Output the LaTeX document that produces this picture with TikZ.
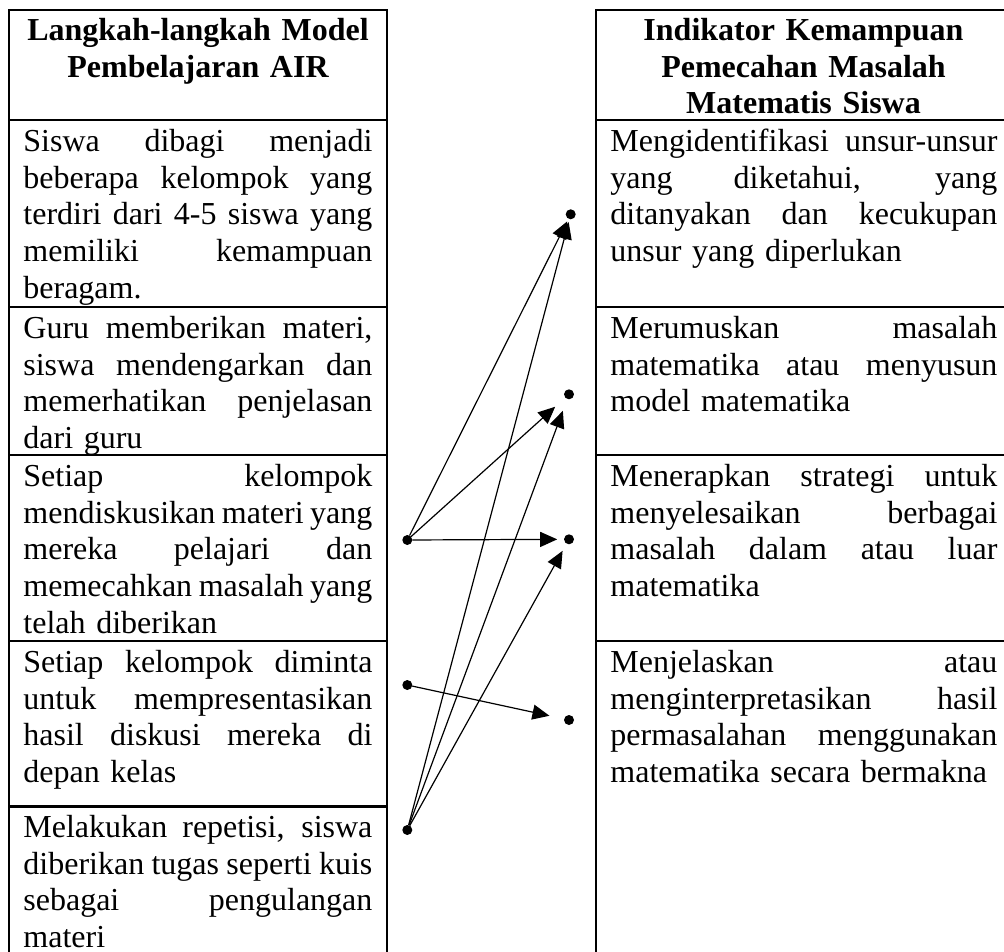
\documentclass[tikz,border=0pt]{standalone}
\usepackage{fontspec}
\setmainfont[Ligatures=NoCommon]{Liberation Serif}
\usetikzlibrary{arrows.meta}
\newlength\lcw \setlength\lcw{174.5pt}
\newlength\rcw \setlength\rcw{193.5pt}
\newcommand\flexsp{\spaceskip=\fontdimen2\font plus 1fil minus \fontdimen4\font\xspaceskip=\spaceskip}
\newcommand\jL[1]{\makebox[\lcw][s]{\flexsp\rule{0pt}{14pt}#1}}
\newcommand\jR[1]{\makebox[\rcw][s]{\flexsp\rule{0pt}{14pt}#1}}
\newcommand\lastl[1]{\rule{0pt}{14pt}#1}
\begin{document}
\begin{tikzpicture}[x=0.5pt,y=-0.5pt,
  border/.style={line width=1.3pt},
  txt/.style={inner sep=0pt, font=\fontsize{16pt}{18.35pt}\selectfont},
  lcell/.style={txt, anchor=north west, align=left, text width=\lcw},
  rcell/.style={txt, anchor=north west, align=left, text width=\rcw},
  lhead/.style={txt, anchor=north, align=center, text width=\lcw, font=\fontsize{16pt}{18.35pt}\selectfont\bfseries},
  rhead/.style={txt, anchor=north, align=center, text width=\rcw, font=\fontsize{16pt}{18.35pt}\selectfont\bfseries},
  bdot/.style={circle, fill=black, inner sep=0pt, outer sep=0pt, minimum size=5pt},
  arr/.style={-{Triangle[length=8.5pt,width=7.5pt]}, line width=0.6pt}]
\useasboundingbox (0,0) rectangle (1004,951);
\clip (0,0) rectangle (1004,951);
\fill[white] (0,0) rectangle (1004,951);
% table frames
\draw[border] (9,10) rectangle (387,980);
\draw[border] (596,10) rectangle (1011,980);
\foreach \yy in {120,307,455,641,806.7} \draw[border] (9,\yy) -- (387,\yy);
\foreach \yy in {120,307,455,641} \draw[border] (596,\yy) -- (1011,\yy);
% headers
\node[lhead] (lh) at (198,12) {\lastl{Langkah-langkah Model}\\\lastl{Pembelajaran AIR}};
\node[rhead] (rh) at (803.5,12) {\lastl{Indikator Kemampuan}\\\lastl{Pemecahan Masalah}\\\lastl{Matematis Siswa}};
% left cells
\node[lcell] (l1) at (23,123) {\jL{Siswa dibagi menjadi}\\\jL{beberapa kelompok yang}\\\jL{terdiri dari 4-5 siswa yang}\\\jL{memiliki kemampuan}\\\lastl{beragam.}};
\node[lcell] (l2) at (23,310) {\jL{Guru memberikan materi,}\\\jL{siswa mendengarkan dan}\\\jL{memerhatikan penjelasan}\\\lastl{dari guru}};
\node[lcell] (l3) at (23,458) {\jL{Setiap kelompok}\\\jL{mendiskusikan materi yang}\\\jL{mereka pelajari dan}\\\jL{memecahkan masalah yang}\\\lastl{telah diberikan}};
\node[lcell] (l4) at (23,644) {\jL{Setiap kelompok diminta}\\\jL{untuk mempresentasikan}\\\jL{hasil diskusi mereka di}\\\lastl{depan kelas}};
\node[lcell] (l5) at (23,809) {\jL{Melakukan repetisi, siswa}\\\jL{diberikan tugas seperti kuis}\\\jL{sebagai pengulangan}\\\lastl{materi}};
% right cells
\node[rcell] (r1) at (610,123) {\jR{Mengidentifikasi unsur-unsur}\\\jR{yang diketahui, yang}\\\jR{ditanyakan dan kecukupan}\\\lastl{unsur yang diperlukan}};
\node[rcell] (r2) at (610,310) {\jR{Merumuskan masalah}\\\jR{matematika atau menyusun}\\\lastl{model matematika}};
\node[rcell] (r3) at (610,458) {\jR{Menerapkan strategi untuk}\\\jR{menyelesaikan berbagai}\\\jR{masalah dalam atau luar}\\\lastl{matematika}};
\node[rcell] (r4) at (610,644) {\jR{Menjelaskan atau}\\\jR{menginterpretasikan hasil}\\\jR{permasalahan menggunakan}\\\lastl{matematika secara bermakna}};
% dots
\node[bdot] (A) at (407.3,540) {};
\node[bdot] (B) at (407.3,685) {};
\node[bdot] (C) at (407.3,830) {};
\node[bdot] (R1) at (570.7,214.3) {};
\node[bdot] (R2) at (569,394.3) {};
\node[bdot] (R3) at (569,539.3) {};
\node[bdot] (R4) at (569,720) {};
% arrows
\draw[arr, shorten >=1.5pt] (A) -- (R1);
\draw[arr, shorten >=6.8pt] (A) -- (R2);
\draw[arr, shorten >=3.4pt] (A) -- (R3);
\draw[arr, shorten >=7.5pt] (B) -- (R4);
\draw[arr, shorten >=1.5pt] (C) -- (R1);
\draw[arr, shorten >=6.3pt] (C) -- (R2);
\draw[arr, shorten >=4.1pt] (C) -- (R3);
\end{tikzpicture}
\end{document}
